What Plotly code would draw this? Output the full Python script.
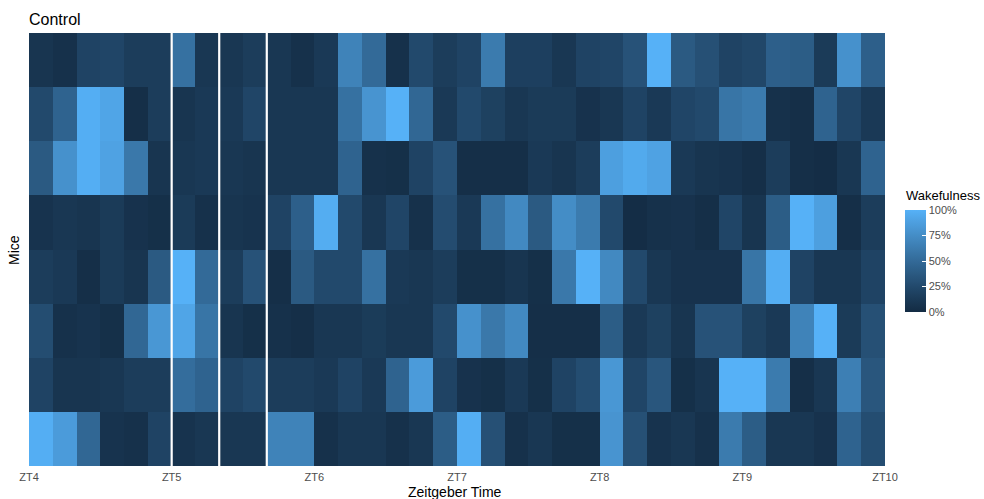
import numpy as np
import plotly.graph_objects as go

# ---------------- data ----------------
zt_ticks = [4, 5, 6, 7, 8, 9, 10]
zt_labels = ["ZT4", "ZT5", "ZT6", "ZT7", "ZT8", "ZT9", "ZT10"]
bin_starts = [4 + i / 6 for i in range(36)]          # 10-minute bins ZT4 .. ZT10
mice = ["M1", "M2", "M3", "M4", "M5", "M6", "M7", "M8"]  # top to bottom
marker_lines = [5.0, 5 + 1 / 3, 5 + 2 / 3]

mouse1 = [0.08, 0.05, 0.20, 0.22, 0.15, 0.15, 0.55, 0.10, 0.10,
          0.15, 0.10, 0.05, 0.12, 0.68, 0.50, 0.05, 0.25, 0.15,
          0.20, 0.62, 0.17, 0.17, 0.10, 0.20, 0.22, 0.32, 1.00,
          0.38, 0.30, 0.20, 0.23, 0.42, 0.40, 0.13, 0.78, 0.42]
mouse2 = [0.25, 0.45, 0.98, 0.92, 0.03, 0.15, 0.08, 0.12, 0.12,
          0.22, 0.10, 0.10, 0.10, 0.55, 0.80, 1.00, 0.48, 0.12,
          0.25, 0.18, 0.10, 0.13, 0.13, 0.06, 0.10, 0.20, 0.12,
          0.22, 0.25, 0.58, 0.62, 0.05, 0.03, 0.45, 0.22, 0.12]
mouse3 = [0.38, 0.78, 0.98, 0.90, 0.60, 0.08, 0.10, 0.12, 0.10,
          0.08, 0.10, 0.10, 0.10, 0.45, 0.05, 0.04, 0.20, 0.32,
          0.03, 0.03, 0.03, 0.12, 0.08, 0.15, 0.88, 0.95, 0.90,
          0.12, 0.08, 0.07, 0.03, 0.15, 0.03, 0.02, 0.10, 0.45]
mouse4 = [0.07, 0.10, 0.08, 0.13, 0.06, 0.04, 0.13, 0.05, 0.08,
          0.07, 0.20, 0.42, 0.97, 0.25, 0.10, 0.22, 0.05, 0.27,
          0.12, 0.55, 0.72, 0.38, 0.75, 0.62, 0.25, 0.02, 0.05,
          0.06, 0.03, 0.22, 0.08, 0.40, 1.00, 0.88, 0.03, 0.15]
mouse5 = [0.15, 0.12, 0.03, 0.13, 0.08, 0.38, 1.00, 0.50, 0.15,
          0.32, 0.03, 0.38, 0.25, 0.25, 0.55, 0.12, 0.10, 0.15,
          0.04, 0.04, 0.08, 0.04, 0.60, 1.00, 0.72, 0.25, 0.10,
          0.06, 0.06, 0.06, 0.58, 0.98, 0.20, 0.10, 0.10, 0.20]
mouse6 = [0.28, 0.05, 0.07, 0.04, 0.48, 0.82, 0.92, 0.58, 0.08,
          0.04, 0.05, 0.03, 0.10, 0.10, 0.14, 0.10, 0.10, 0.25,
          0.78, 0.60, 0.72, 0.03, 0.03, 0.03, 0.40, 0.12, 0.18,
          0.08, 0.32, 0.32, 0.18, 0.12, 0.68, 1.00, 0.13, 0.30]
mouse7 = [0.20, 0.08, 0.08, 0.10, 0.15, 0.15, 0.52, 0.45, 0.20,
          0.25, 0.15, 0.15, 0.12, 0.20, 0.12, 0.45, 0.85, 0.20,
          0.06, 0.04, 0.12, 0.04, 0.20, 0.28, 0.82, 0.22, 0.35,
          0.04, 0.08, 1.00, 1.00, 0.62, 0.03, 0.10, 0.65, 0.35]
mouse8 = [0.98, 0.85, 0.48, 0.07, 0.05, 0.20, 0.07, 0.10, 0.10,
          0.10, 0.68, 0.68, 0.05, 0.10, 0.10, 0.05, 0.10, 0.40,
          0.98, 0.30, 0.05, 0.10, 0.04, 0.04, 0.80, 0.30, 0.07,
          0.10, 0.05, 0.62, 0.40, 0.10, 0.10, 0.06, 0.45, 0.28]

wake_rows = [mouse1, mouse2, mouse3, mouse4, mouse5, mouse6, mouse7, mouse8]
legend_ticks = [0, 0.25, 0.5, 0.75, 1.0]
legend_labels = ["0%", "25%", "50%", "75%", "100%"]

# ---------------- colour scale (Lab interpolation like ggplot) ----------------
def hex_to_rgb(h):
    h = h.lstrip("#")
    return np.array([int(h[i:i + 2], 16) / 255 for i in (0, 2, 4)])

def srgb_to_lin(c):
    return np.where(c <= 0.04045, c / 12.92, ((c + 0.055) / 1.055) ** 2.4)

def lin_to_srgb(c):
    return np.where(c <= 0.0031308, 12.92 * c, 1.055 * np.clip(c, 0, None) ** (1 / 2.4) - 0.055)

M = np.array([[0.4124, 0.3576, 0.1805], [0.2126, 0.7152, 0.0722], [0.0193, 0.1192, 0.9505]])
WHITE = np.array([0.95047, 1.0, 1.08883])

def rgb_to_lab(rgb):
    xyz = M @ srgb_to_lin(rgb) / WHITE
    f = np.where(xyz > 216 / 24389, np.cbrt(xyz), (24389 / 27 * xyz + 16) / 116)
    return np.array([116 * f[1] - 16, 500 * (f[0] - f[1]), 200 * (f[1] - f[2])])

def lab_to_rgb(lab):
    L, a, b = lab
    fy = (L + 16) / 116
    fx = fy + a / 500
    fz = fy - b / 200
    f = np.array([fx, fy, fz])
    xyz = np.where(f ** 3 > 216 / 24389, f ** 3, (116 * f - 16) / (24389 / 27)) * WHITE
    rgb = lin_to_srgb(np.linalg.solve(M, xyz))
    return np.clip(rgb, 0, 1)

lo, hi = rgb_to_lab(hex_to_rgb("#132B43")), rgb_to_lab(hex_to_rgb("#56B1F7"))
colorscale = []
for t in np.linspace(0, 1, 21):
    r, g, b = (lab_to_rgb(lo + (hi - lo) * t) * 255).round().astype(int)
    colorscale.append([float(t), f"rgb({r},{g},{b})"])

# ---------------- figure ----------------
W, H = 984, 499
PL, PR, PT, PB = 29, 885, 33, 466   # plot area in pixels

def px_x(x):
    return (x - PL) / (PR - PL)

def px_y(y):
    return 1 - (y - PT) / (PB - PT)

x_centers = [b + 1 / 12 for b in bin_starts]
y_idx = list(range(len(mice)))

fig = go.Figure(go.Heatmap(
    x=x_centers, y=y_idx, z=wake_rows,
    colorscale=colorscale, zmin=0, zmax=1.0,
    xgap=0, ygap=0,
    colorbar=dict(
        xref="paper", yref="paper",
        x=px_x(905), xanchor="left",
        y=px_y(261), yanchor="middle",
        len=102, lenmode="pixels", thickness=21,
        xpad=0, ypad=0, outlinewidth=0,
        tickvals=legend_ticks, ticktext=legend_labels,
        ticks="inside", ticklen=4, tickcolor="white",
        tickfont=dict(size=11, color="#4d4d4d", family="Liberation Sans"),
    ),
))

for xv in marker_lines:
    fig.add_shape(type="line", x0=xv, x1=xv, y0=0, y1=1, xref="x", yref="paper",
                  line=dict(color="white", width=2.2))

fig.update_layout(
    width=W, height=H,
    margin=dict(l=PL, r=W - PR, t=PT, b=H - PB),
    paper_bgcolor="white", plot_bgcolor="white",
    font=dict(family="Liberation Sans", color="#000000"),
    title=dict(text="Control", x=29 / W, xanchor="left", xref="container",
               y=1 - 19 / H, yanchor="middle", yref="container",
               font=dict(size=16, color="#000000")),
    xaxis=dict(range=[4, 10], tickvals=zt_ticks, ticktext=zt_labels,
               showgrid=False, zeroline=False, ticks="", ticklabelstandoff=3,
               tickfont=dict(size=11, color="#4d4d4d")),
    yaxis=dict(range=[len(mice) - 0.5, -0.5], showticklabels=False,
               showgrid=False, zeroline=False, ticks=""),
    annotations=[
        dict(text="Zeitgeber Time", x=px_x(455), y=px_y(492),
             xref="paper", yref="paper", showarrow=False,
             xanchor="center", yanchor="middle",
             font=dict(size=14, color="#000000")),
        dict(text="Mice", x=px_x(14), y=px_y(250),
             xref="paper", yref="paper", showarrow=False, textangle=-90,
             xanchor="center", yanchor="middle",
             font=dict(size=14, color="#000000")),
        dict(text="Wakefulness", x=px_x(904), y=px_y(195),
             xref="paper", yref="paper", showarrow=False,
             xanchor="left", yanchor="middle",
             font=dict(size=13, color="#000000")),
    ],
)

fig.write_html("out.html")
